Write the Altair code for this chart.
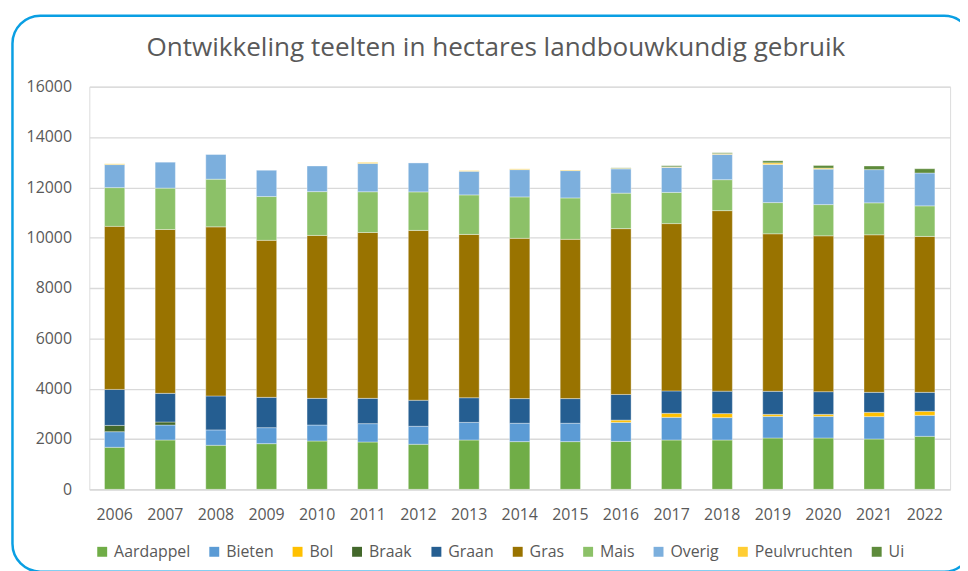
import altair as alt
import pandas as pd

years = [str(y) for y in range(2006, 2023)]
crops = ["Aardappel", "Bieten", "Bol", "Braak", "Graan", "Gras", "Mais", "Overig", "Peulvruchten", "Ui"]
colors = ["#70AD47", "#5B9BD5", "#FFC000", "#43682B", "#255E91", "#997300", "#8CC168", "#7CAFDD", "#FFCD33", "#5E8B3B"]

aardappel = [1670, 1960, 1750, 1815, 1920, 1880, 1790, 1960, 1895, 1895, 1905, 1960, 1960, 2040, 2040, 2000, 2105]
bieten = [620, 595, 610, 635, 635, 730, 715, 700, 730, 730, 755, 900, 890, 860, 860, 890, 835]
bol = [0, 0, 0, 0, 0, 0, 0, 0, 0, 0, 90, 160, 160, 80, 80, 170, 160]
braak = [250, 120, 0, 0, 0, 0, 0, 0, 0, 0, 0, 0, 0, 0, 0, 0, 0]
graan = [1430, 1140, 1350, 1205, 1060, 1005, 1035, 980, 980, 980, 1020, 890, 890, 915, 900, 795, 755]
gras = [6480, 6510, 6720, 6240, 6475, 6590, 6750, 6490, 6370, 6330, 6590, 6650, 7175, 6260, 6195, 6260, 6195]
mais = [1540, 1645, 1895, 1740, 1740, 1620, 1530, 1570, 1645, 1645, 1410, 1240, 1230, 1240, 1240, 1270, 1215]
overig = [915, 1030, 980, 1045, 1020, 1125, 1150, 940, 1085, 1085, 965, 995, 1005, 1515, 1410, 1320, 1305]
peulvruchten = [30, 0, 0, 0, 0, 40, 0, 25, 30, 25, 20, 20, 30, 65, 40, 0, 0]
ui = [0, 0, 0, 0, 0, 0, 0, 0, 0, 0, 20, 45, 35, 80, 105, 145, 170]

series = {
    "Aardappel": aardappel, "Bieten": bieten, "Bol": bol, "Braak": braak, "Graan": graan,
    "Gras": gras, "Mais": mais, "Overig": overig, "Peulvruchten": peulvruchten, "Ui": ui,
}

rows = []
for i, c in enumerate(crops):
    for y, v in zip(years, series[c]):
        rows.append({"Jaar": y, "Teelt": c, "Hectares": v, "volgorde": i})
df = pd.DataFrame(rows)
df = df[df["Hectares"] > 0]

FONT = "Open Sans"
GREY = "#595959"

bars = alt.Chart(df).mark_bar(stroke="white", strokeWidth=0.6, strokeOpacity=0.6).encode(
    x=alt.X("Jaar:N", sort=years, title=None,
            scale=alt.Scale(paddingInner=0.6, paddingOuter=0.3),
            axis=alt.Axis(labelAngle=0, labelFontSize=16, labelColor=GREY, labelFont=FONT,
                          domainColor="#D9D9D9", domainWidth=1.3, ticks=False, labelPadding=17)),
    y=alt.Y("Hectares:Q", stack="zero", title=None,
            scale=alt.Scale(domain=[0, 16000], nice=False),
            axis=alt.Axis(values=list(range(0, 16001, 2000)), format="d", labelFontSize=16,
                          labelColor=GREY, labelFont=FONT, gridColor="#D9D9D9", gridWidth=1.3,
                          domain=False, ticks=False, labelPadding=18)),
    color=alt.Color("Teelt:N", sort=crops, scale=alt.Scale(domain=crops, range=colors),
                    legend=alt.Legend(orient="none", legendX=5, legendY=461, direction="horizontal",
                                      title=None, symbolType="square", symbolSize=100,
                                      symbolStrokeWidth=0, labelFontSize=16, labelColor=GREY,
                                      labelFont=FONT, columnPadding=16, symbolOpacity=1)),
    order=alt.Order("volgorde:Q", sort="ascending"),
)

border = alt.Chart(pd.DataFrame({"k": [0]})).mark_rect(
    filled=False, stroke="#0A9FE3", strokeWidth=2.5, cornerRadius=28
).encode(
    x=alt.value(-77.5), x2=alt.value(890), y=alt.value(-71.5), y2=alt.value(489)
)

chart = alt.layer(border, bars).properties(
    width=868, height=406,
    title=alt.TitleParams("Ontwikkeling teelten in hectares landbouwkundig gebruik",
                          fontSize=26.3, font=FONT, color=GREY, fontWeight="normal",
                          anchor="middle", dx=-24, offset=12, baseline="alphabetic", dy=80),
    autosize=alt.AutoSizeParams(type="none"),
    padding={"left": 82, "top": 77, "right": 10, "bottom": 80},
).configure_view(stroke=None).configure(background="white")

chart.save("out.html", embed_options={"renderer": "svg", "actions": False})
